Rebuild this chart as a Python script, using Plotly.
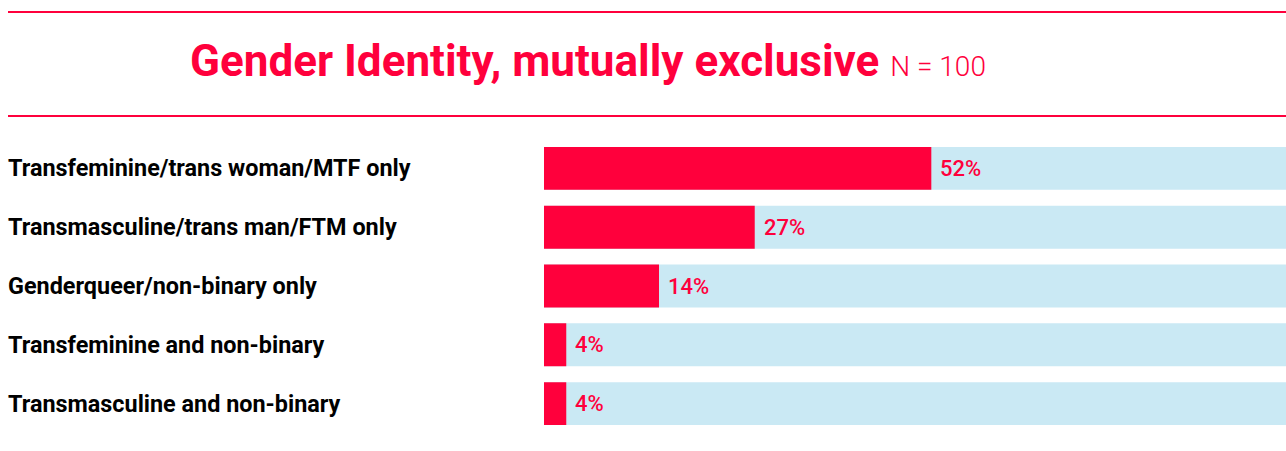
import plotly.graph_objects as go

# categories, top to bottom
categories = [
    "Transfeminine/trans woman/MTF only",
    "Transmasculine/trans man/FTM only",
    "Genderqueer/non-binary only",
    "Transfeminine and non-binary",
    "Transmasculine and non-binary",
]
# bar lengths (percent of full track)
bar_values = [52.2, 28.4, 15.5, 3.0, 3.0]
value_labels = ["52%", "27%", "14%", "4%", "4%"]
track_values = [100, 100, 100, 100, 100]

title_main = "Gender Identity, mutually exclusive"
title_n = "N = 100"

RED = "#ff003c"
BLUE = "#cae9f4"
W, H = 1286, 451
L, R, T, B = 544, 0, 139, 18

fig = go.Figure()
fig.add_trace(go.Bar(y=categories, x=track_values, orientation="h",
                     marker=dict(color=BLUE, line_width=0), width=0.73,
                     hoverinfo="skip"))
fig.add_trace(go.Bar(y=categories, x=bar_values, orientation="h",
                     marker=dict(color=RED, line_width=0), width=0.73))


# pixel -> paper coords
def px_x(p):
    return (p - L) / (W - L - R)


def px_y(p):
    return (H - B - p) / (H - T - B)


annotations = []
for cat in categories:
    annotations.append(dict(x=px_x(6), xref="paper", y=cat, yref="y",
                            text="<b>" + cat + "</b>", showarrow=False,
                            xanchor="left", yanchor="middle",
                            font=dict(family="Roboto", size=23.4, color="#000000")))
for cat, v, lab in zip(categories, bar_values, value_labels):
    annotations.append(dict(x=v, xref="x", y=cat, yref="y", text=lab,
                            showarrow=False, xanchor="left", yanchor="middle",
                            xshift=7,
                            font=dict(family="Roboto", size=22, color=RED,
                                      weight=500)))

annotations.append(dict(
    x=px_x(588), xref="paper", y=px_y(61), yref="paper",
    text="<b>" + title_main + "</b> <span style='font-size:28px;font-weight:300'>" + title_n + "</span>",
    showarrow=False, xanchor="center", yanchor="middle",
    font=dict(family="Roboto", size=44, color=RED)))

shapes = [
    dict(type="line", xref="paper", yref="paper", x0=px_x(8), x1=1,
         y0=px_y(12), y1=px_y(12), line=dict(color=RED, width=2)),
    dict(type="line", xref="paper", yref="paper", x0=px_x(8), x1=1,
         y0=px_y(116), y1=px_y(116), line=dict(color=RED, width=2)),
]

fig.update_layout(
    width=W, height=H,
    margin=dict(l=L, r=R, t=T, b=B, pad=0),
    barmode="overlay",
    showlegend=False,
    plot_bgcolor="white", paper_bgcolor="white",
    xaxis=dict(range=[0, 100], visible=False, fixedrange=True),
    yaxis=dict(autorange="reversed", showticklabels=False, showgrid=False,
               zeroline=False, fixedrange=True),
    annotations=annotations,
    shapes=shapes,
)

# drop the default body margin so the figure fills the window exactly
fig.write_html("out.html", config={"displayModeBar": False},
               post_script="document.body.style.margin = '0';")
